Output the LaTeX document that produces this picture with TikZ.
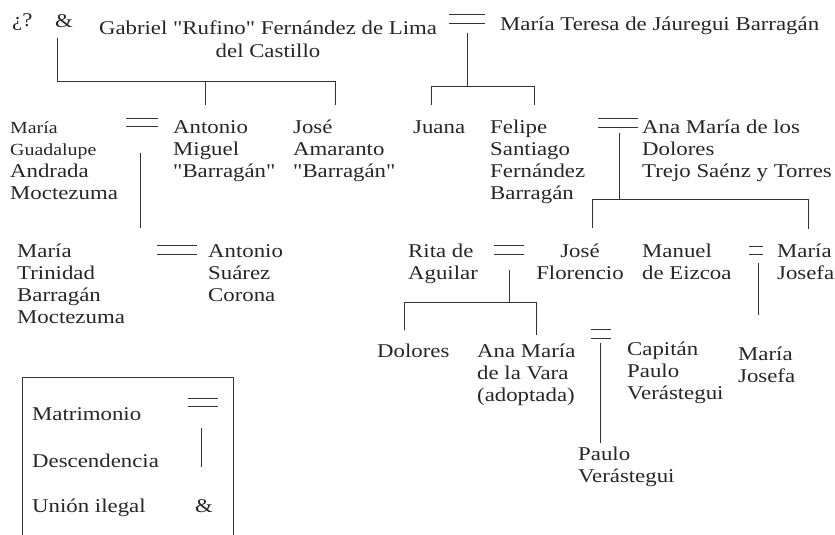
\documentclass[tikz,border=0pt]{standalone}
\usepackage{fontspec}
\newfontfamily\treeface{Liberation Serif}[FakeStretch=1.17]
\newcommand\treefont{\treeface\fontsize{19.5}{22.3}\selectfont}
\newcommand\smtreefont{\fontsize{17}{20}\selectfont}
\newcommand\stack[1]{\begin{tabular}[t]{@{}l@{}}#1\end{tabular}}
\newcommand\cstack[1]{\begin{tabular}[t]{@{}c@{}}#1\end{tabular}}
\tikzset{
  person/.style={inner sep=0pt, anchor=base west, font=\treefont, text=black!85},
  wed/.style={inner sep=0pt, minimum height=8.5pt, minimum width=#1},
  tie/.style={line width=1pt, black!80}
}
\begin{document}
\begin{tikzpicture}[x=1pt,y=-1pt]
        \useasboundingbox (0,0) rectangle (835,535);
        % first generation
        \node[person] (unk) at (12,27) {¿?};
        \node[person] (ill) at (55,28) {\&};
        \node[person, anchor=base] (gab) at (268,35) {\cstack{Gabriel "Rufino" Fernández de Lima\\del Castillo}};
        \node[wed=36] (w0) at (467,19) {};
        \node[person] (mte) at (500,31) {María Teresa de Jáuregui Barragán};
        % second generation
        \node[person] (mgu) at (10,133) {\stack{\smtreefont María\\\smtreefont Guadalupe\\Andrada\\Moctezuma}};
        \node[wed=31] (w1) at (142,122.5) {};
        \node[person] (amig) at (173,133) {\stack{Antonio\\Miguel\\"Barragán"}};
        \node[person] (jam) at (293,133) {\stack{José\\Amaranto\\"Barragán"}};
        \node[person] (jua) at (413,133) {Juana};
        \node[person] (fel) at (490,133) {\stack{Felipe\\Santiago\\Fernández\\Barragán}};
        \node[wed=39] (w2) at (618,123) {};
        \node[person] (ana) at (642,133) {\stack{Ana María de los\\Dolores\\Trejo Saénz y Torres}};
        % third generation
        \node[person] (mtr) at (17,257) {\stack{María\\Trinidad\\Barragán\\Moctezuma}};
        \node[wed=39] (w3) at (177,250) {};
        \node[person] (asc) at (208,257) {\stack{Antonio\\Suárez\\Corona}};
        \node[person] (rit) at (408,257) {\stack{Rita de\\Aguilar}};
        \node[wed=30] (w4) at (509,250) {};
        \node[person, anchor=base] (jfl) at (580,257) {\cstack{José\\Florencio}};
        \node[person] (man) at (642,257) {\stack{Manuel\\de Eizcoa}};
        \node[wed=14] (w5) at (756,250.5) {};
        \node[person] (mjo) at (777,257) {\stack{María\\Josefa}};
        % fourth generation
        \node[person] (dol) at (377,357) {Dolores};
        \node[person] (anv) at (477,357) {\stack{Ana María\\de la Vara\\(adoptada)}};
        \node[wed=20] (w6) at (601,334) {};
        \node[person] (cap) at (627,355) {\stack{Capitán\\Paulo\\Verástegui}};
        \node[person] (mj2) at (738,360) {\stack{María\\Josefa}};
        \node[person] (pau) at (578,460) {\stack{Paulo\\Verástegui}};
        % legend
        \draw[tie] (22,545) |- (233,377) -- (233,545);
        \node[person] (lmat) at (32,420) {Matrimonio};
        \node[wed=30] (wL) at (203,402.5) {};
        \node[person] (ldes) at (32,467) {Descendencia};
        \node[person] (luni) at (32,512) {Unión ilegal};
        \node[person] (lill) at (195,512) {\&};
        % marriage signs
        \foreach \w in {w0,w1,w2,w3,w4,w5,w6,wL}
          \draw[tie] (\w.north west) -- (\w.north east) (\w.south west) -- (\w.south east);
        % descent lines
        \path (57,38) coordinate (u0) (57,81) coordinate (u1) (335,81) coordinate (u2)
              (335,105) coordinate (u3) (205,81) coordinate (u4) (205,105) coordinate (u5);
        \draw[tie] (u0) -- (u1) -- (u2) -- (u3) (u4) -- (u5);
        \path (467,33) coordinate (d0) (467,86) coordinate (d1) (431,86) coordinate (d2)
              (431,105) coordinate (d3) (534,86) coordinate (d4) (534,105) coordinate (d5);
        \draw[tie] (d0) -- (d1) (d3) -- (d2) -- (d4) -- (d5);
        \path (140,153) coordinate (e0) (140,228) coordinate (e1);
        \draw[tie] (e0) -- (e1);
        \path (619,133) coordinate (f0) (619,199) coordinate (f1) (592,199) coordinate (f2)
              (592,228) coordinate (f3) (808,199) coordinate (f4) (808,229) coordinate (f5);
        \draw[tie] (f0) -- (f1) (f3) -- (f2) -- (f4) -- (f5);
        \path (509,270) coordinate (g0) (509,302) coordinate (g1) (404,302) coordinate (g2)
              (404,330) coordinate (g3) (536,302) coordinate (g4) (536,335) coordinate (g5);
        \draw[tie] (g0) -- (g1) (g3) -- (g2) -- (g4) -- (g5);
        \path (758,263) coordinate (h0) (758,315) coordinate (h1);
        \draw[tie] (h0) -- (h1);
        \path (600,343) coordinate (p0) (600,443) coordinate (p1);
        \draw[tie] (p0) -- (p1);
        \path (201,428) coordinate (l0) (201,467) coordinate (l1);
        \draw[tie] (l0) -- (l1);
\end{tikzpicture}
\end{document}
